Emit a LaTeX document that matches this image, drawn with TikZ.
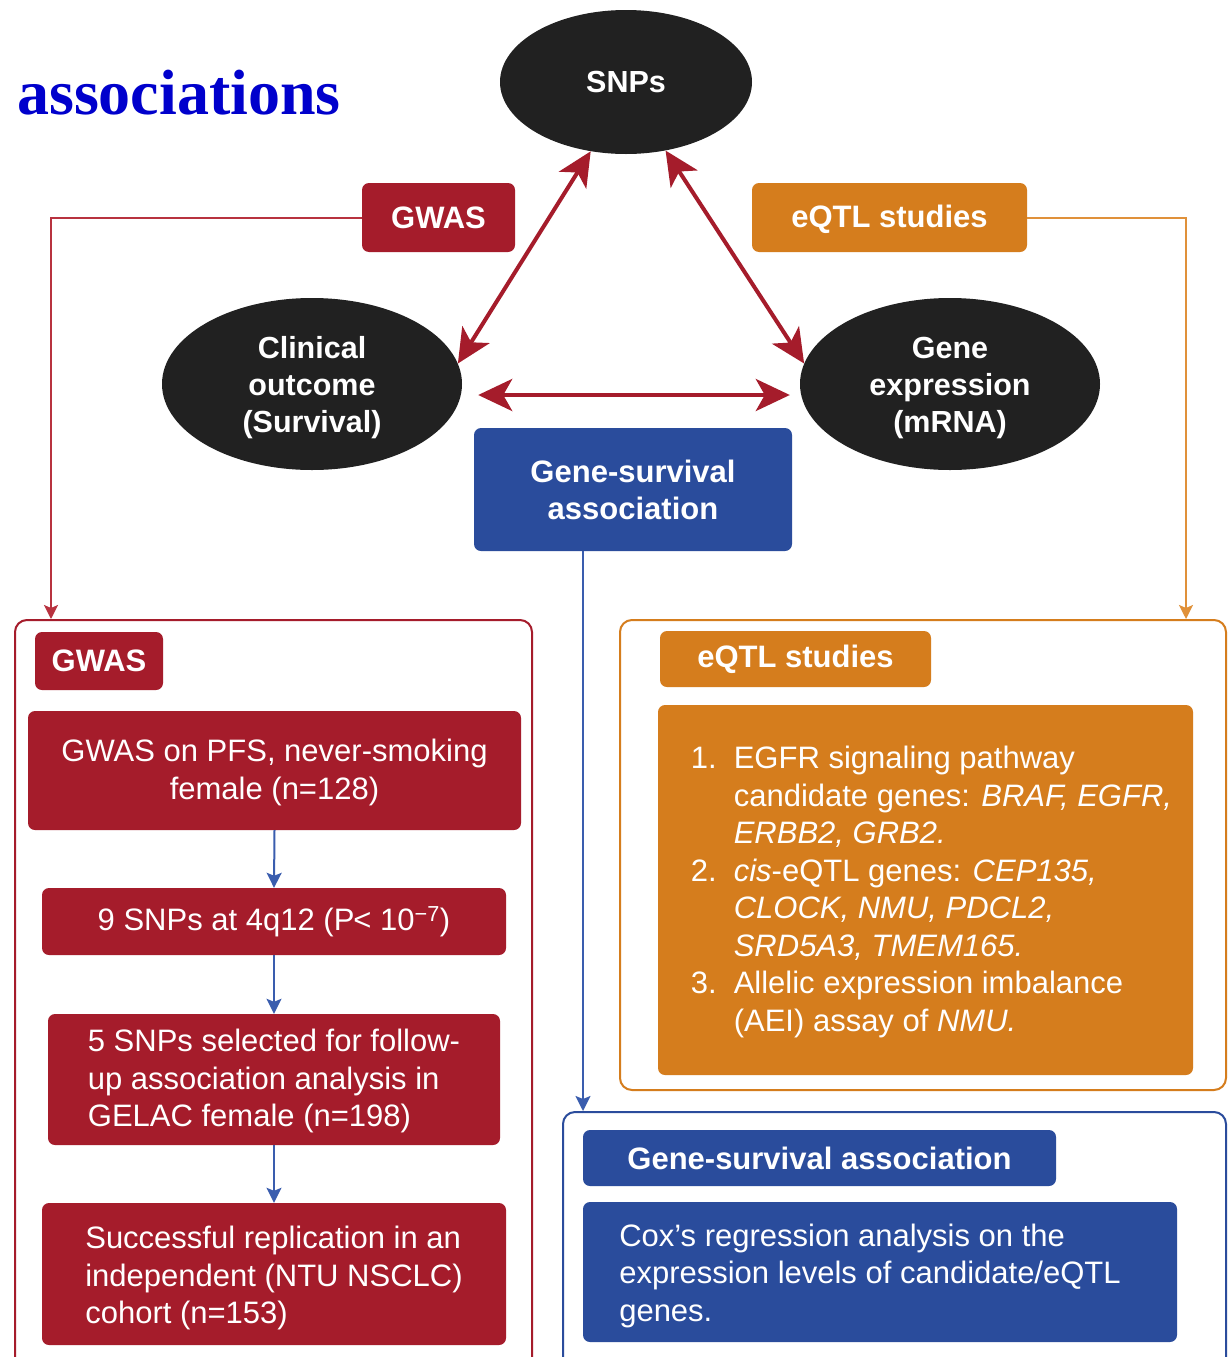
\documentclass[tikz,border=0pt]{standalone}
\usepackage{fontspec}
\setmainfont{Liberation Sans}
\newfontfamily\titlefont{Liberation Serif}
\usetikzlibrary{arrows.meta,shapes.geometric}
\definecolor{gred}{HTML}{A51C2B}
\definecolor{gorange}{HTML}{D57D1D}
\definecolor{gblue}{HTML}{2A4C9C}
\definecolor{lblue}{HTML}{3A5DAE}
\definecolor{lred}{HTML}{B8323F}
\definecolor{lorange}{HTML}{E0913A}
\definecolor{gdark}{HTML}{212121}
\definecolor{tblue}{HTML}{0000CC}
\newcommand\fbold{\fontsize{31}{37}\selectfont\bfseries}
\newcommand\freg{\fontsize{31}{37.5}\selectfont}
\newcommand\fell{\fontsize{30.5}{37}\selectfont\bfseries}
\newcommand\toppad[1]{\rule{0pt}{#1pt}}
\tikzset{
  sz/.style 2 args={minimum width=#1pt, minimum height=#2pt},
  oval/.style={ellipse, fill=gdark, text=white, inner sep=0pt, font=\fell, align=center},
  fillbox/.style={rectangle, rounded corners=7pt, inner sep=0pt, text=white, align=center},
  redbox/.style={fillbox, fill=gred},
  orbox/.style={fillbox, fill=gorange},
  bluebox/.style={fillbox, fill=gblue},
  frame/.style={rectangle, rounded corners=12pt, line width=2pt, fill=white, inner sep=0pt},
  biarrow/.style={draw=gred, line width=4pt, {Stealth[length=34pt,width=32pt,inset=9pt]}-{Stealth[length=34pt,width=32pt,inset=9pt]}},
  flow/.style={draw=lblue, line width=2pt, -{Stealth[length=15pt,width=15pt,inset=3pt]}},
  redline/.style={draw=lred, line width=2pt, -{Stealth[length=14pt,width=14pt,inset=3pt]}},
  orline/.style={draw=lorange, line width=2pt, -{Stealth[length=14pt,width=14pt,inset=3pt]}},
}
\begin{document}
\begin{tikzpicture}[x=1pt,y=-1pt]
\clip (0,0) rectangle (1230,1357);
\fill[white] (0,0) rectangle (1230,1357);

% title fragment
\node[anchor=base west, inner sep=0pt, text=tblue, font=\titlefont\fontsize{64}{70}\selectfont\bfseries] (title) at (17,114) {associations};

% containers
\node[frame, draw=gred, sz={517}{760}] (leftC) at (273.5,1000) {};
\node[frame, draw=gorange, sz={606}{470}] (rightO) at (923,855) {};
\node[frame, draw=gblue, sz={663}{270}] (rightB) at (894.5,1247) {};

% top ellipses
\node[oval, sz={252}{144}] (snps) at (626,82) {SNPs};
\node[oval, sz={300}{172}] (clin) at (312,384) {\toppad{30}Clinical\\outcome\\(Survival)};
\node[oval, sz={300}{172}] (gene) at (950,384) {\toppad{30}Gene\\expression\\(mRNA)};

% top labels
\node[redbox, sz={153}{69}, font=\fbold] (gwasT) at (438.5,217.5) {GWAS};
\node[orbox, sz={275}{69}, font=\fbold] (eqtlT) at (889.5,217.5) {\toppad{26}eQTL studies};
\node[bluebox, sz={318}{123}, font=\fbold] (gsa) at (633,489.5) {Gene-survival\\association};

% left panel
\node[redbox, sz={128}{58}, font=\fbold] (gwasL) at (99,661) {GWAS};
\node[redbox, sz={493}{119}, font=\freg] (b1) at (274.5,770.5) {\toppad{26}GWAS on PFS, never-smoking\\female (n=128)};
\node[redbox, sz={464}{67}, font=\freg] (b2) at (274,921.5) {9 SNPs at 4q12 (P{\kern-1pt}< 10\textsuperscript{\char"2212 7})};
\node[redbox, sz={452}{131}, font=\freg, align=left] (b3) at (274,1079.5) {\toppad{26}5 SNPs selected for follow-\\up association analysis in\\GELAC female (n=198)};
\node[redbox, sz={464}{142}, font=\freg, align=left] (b4) at (274,1274) {\toppad{31}Successful replication in an\\independent (NTU NSCLC)\\cohort (n=153)};

% right orange panel
\node[orbox, sz={271}{56}, font=\fbold] (eqtlL) at (795.5,659) {eQTL studies};
\node[orbox, sz={535}{370}, font=\freg, align=left] (eqtlB) at (925.5,890) {%
\hspace*{12pt}\begin{tabular}[c]{@{}l@{\hspace{17pt}}l@{}}
\toppad{31}1. & EGFR signaling pathway\\
   & candidate genes: \textit{BRAF, EGFR,}\\
   & \textit{ERBB2, GRB2.}\\
2. & \textit{cis}-eQTL genes: \textit{CEP135,}\\
   & \textit{CLOCK, NMU, PDCL2,}\\
   & \textit{SRD5A3, TMEM165.}\\
3. & Allelic expression imbalance\\
   & (AEI) assay of \textit{NMU.}
\end{tabular}};

% right blue panel
\node[bluebox, sz={473}{56}, font=\fbold] (gsaL) at (819.5,1158) {Gene-survival association};
\node[bluebox, sz={594}{140}, font=\freg] (gsaB) at (880,1272) {%
\begin{tabular}[c]{@{}l@{\hspace{20pt}}}
\toppad{35}Cox's regression analysis on the\\
expression levels of candidate/eQTL\\
genes.
\end{tabular}};

% double arrows
\draw[biarrow] (snps.243) -- (clin.8);
\draw[biarrow] (snps.300) -- (gene.172);
\draw[biarrow] ([xshift=16pt,yshift=-11pt]clin.east) -- ([xshift=-10pt,yshift=-11pt]gene.west);

% connectors to panels
\draw[redline] (gwasT.west) -| ([xshift=37pt]leftC.north west);
\draw[orline] (eqtlT.east) -| ([xshift=-41pt]rightO.north east);
\draw[flow] ([xshift=-50pt]gsa.south) -- ([xshift=-50pt]gsa.south |- rightB.north);

% flow in left panel
\draw[flow] (b1.south) -- (b2.north);
\draw[flow] (b2.south) -- (b3.north);
\draw[flow] (b3.south) -- (b4.north);
\end{tikzpicture}
\end{document}
